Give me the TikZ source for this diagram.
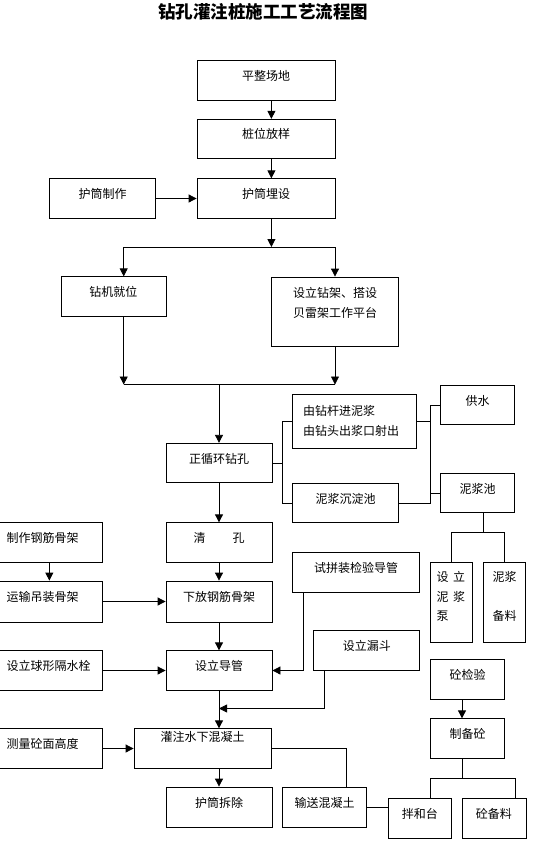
\documentclass[tikz,border=0pt]{standalone}
\usepackage{fontspec}
\newfontfamily\cjk{Noto Sans CJK SC}
\usetikzlibrary{arrows.meta}

\begin{document}
\begin{tikzpicture}[x=1pt, y=-1pt, line width=0.8pt,
  every node/.style={font=\cjk\fontsize{12}{19.5}\selectfont},
  box/.style={draw, inner sep=0pt, minimum height=39.5, text height=10pt, text depth=10pt},
  sidebox/.style={anchor=east, text width=85.5pt, align=left, inner xsep=10pt},
  multi/.style={text height=, text depth=},
  arr/.style={-{Triangle[length=8pt,width=8pt]}}]

\useasboundingbox (0,0) rectangle (554,856);

% title

\node[font=\cjk\bfseries\fontsize{17.5}{21}\selectfont] (title) at (263,11.7) {钻孔灌注桩施工工艺流程图};

% preparation

\node[box, minimum width=138] (pingzheng) at (266,80.5) {平整场地};
\node[box, minimum width=138] (zhuangwei) at (266,139) {桩位放样};
\node[box, minimum width=138] (maishe) at (266,198.5) {护筒埋设};
\node[box, minimum width=106] (huzhizuo) at (102.5,198.5) {护筒制作};
\node[box, minimum width=105] (zuanji) at (113.4,296.5) {钻机就位};
\node[box, minimum width=127, minimum height=69] (zuanjia) at (335,311.5) {};
\node[align=center] (zuanjiatext) at (335,303) {设立钻架、搭设\\贝雷架工作平台};

% drilling and mud

\node[box, minimum width=106] (zhengxun) at (219,463) {正循环钻孔};
\node[box, multi, minimum height=54, text width=102.8pt, inner xsep=10.6pt, align=left] (youzuan) at (354.5,421) {由钻杆进泥浆\\由钻头出浆口射出};
\node[box, minimum width=74] (gongshui) at (477.7,405) {供水};
\node[box, minimum width=106] (chendian) at (345.6,503) {泥浆沉淀池};
\node[box, minimum width=74] (nijiangchi) at (477.7,493) {泥浆池};
\node[box, minimum width=42.4, minimum height=80, text depth=50.4pt, text width=30pt, align=left] (beng) at (451.6,602) {设\hspace{4.5pt}立\\泥\hspace{4.5pt}浆\\泵};
\node[box, minimum width=42.4, minimum height=80, text depth=50.4pt, text width=30pt, align=center] (beiliao) at (504.6,602) {泥浆\\[19.5pt]备料};

% cage and pipe

\node[box, minimum width=106] (qingkong) at (219,542.5) {清\hspace{27pt}孔};
\node[box, sidebox] (gangjin) at (102.5,542.5) {制作钢筋骨架};
\node[box, sidebox, minimum height=41] (yunshu) at (102.5,601.5) {运输吊装骨架};
\node[box, minimum width=106, minimum height=41] (xiafang) at (219,601.5) {下放钢筋骨架};
\node[box, minimum width=127, minimum height=40] (shipin) at (356.2,572) {试拼装检验导管};
\node[box, minimum width=106] (daoguan) at (219,670.5) {设立导管};
\node[box, sidebox] (geshui) at (102.5,670.5) {设立球形隔水栓};
\node[box, minimum width=106] (loudou) at (366.8,650.5) {设立漏斗};

% concrete

\node[box, minimum width=137.4, text depth=24pt] (guanzhu) at (202.7,748.5) {灌注水下混凝土};
\node[box, sidebox] (celiang) at (102.5,748.5) {测量砼面高度};
\node[box, minimum width=106, minimum height=40] (chaichu) at (219,807) {护筒拆除};
\node[box, minimum width=84, minimum height=40] (shusong) at (324.7,807) {输送混凝土};
\node[box, minimum width=63.6, minimum height=40] (banhe) at (419.8,818) {拌和台};
\node[box, minimum width=64, minimum height=40] (shabei) at (493.9,818) {砼备料};
\node[box, minimum width=74.2] (jianyan) at (467.5,679.5) {砼检验};
\node[box, minimum width=74.2] (zhibei) at (467.5,738.5) {制备砼};

% junction points

\coordinate (fork) at (271.4,247);
\coordinate (forkL) at (123.7,247);
\coordinate (forkR) at (335,247);
\coordinate (joinL) at (123.7,384.5);
\coordinate (joinR) at (335,384.5);
\coordinate (join) at (219,384.5);
\coordinate (mudL) at (282.7,463);
\coordinate (mudRtop) at (430.4,405);
\coordinate (mudRbot) at (430.4,503);
\coordinate (poolfork) at (483.4,532);
\coordinate (pourin) at (219,708.5);
\coordinate (mixL) at (430.4,778);
\coordinate (mixR) at (515.2,778);

% edges

\draw[arr] ([xshift=5.4]pingzheng.south) -- ([xshift=5.4]zhuangwei.north);
\draw[arr] ([xshift=5.4]zhuangwei.south) -- ([xshift=5.4]maishe.north);
\draw[arr] (huzhizuo) -- (maishe);
\draw[arr] ([xshift=5.4]maishe.south) -- (fork);
\draw (forkL) -- (forkR);
\draw[arr] (forkL) -- (forkL |- zuanji.north);
\draw[arr] (forkR) -- (zuanjia.north);
\draw[arr] (joinL |- zuanji.south) -- (joinL);
\draw[arr] (zuanjia.south) -- (joinR);
\draw (joinL) -- (joinR);
\draw[arr] (join) -- (zhengxun.north);

\draw (zhengxun.east) -- (mudL);
\draw (youzuan.west) -| (mudL) |- (chendian.west);
\draw (gongshui.west) -- (mudRtop) -- (mudRbot) -- (chendian.east);
\draw (youzuan.east) -- (youzuan.east -| mudRtop);
\draw (nijiangchi.west) -- (nijiangchi.west -| mudRtop);
\draw (poolfork |- nijiangchi.south) -- (poolfork);
\draw (beng.north) |- (beiliao.north |- poolfork) -- (beiliao.north);

\draw[arr] (zhengxun) -- (qingkong);
\draw[arr] (qingkong) -- (xiafang);
\draw[arr] (gangjin) -- (yunshu);
\draw[arr] (yunshu) -- (xiafang);
\draw[arr] (xiafang) -- (daoguan);
\draw[arr] (geshui) -- (daoguan);
\draw[arr] ([xshift=10.6]shipin.south west) |- (daoguan.east);
\draw[arr] ([xshift=10.6]loudou.south west) |- (pourin);
\draw[arr] (daoguan.south) -- (daoguan.south |- guanzhu.north);

\draw[arr] (celiang) -- (guanzhu);
\draw[arr] (chaichu.north |- guanzhu.south) -- (chaichu.north);
\draw (guanzhu.east) -| ([xshift=-21.2]shusong.north east);
\draw (shusong.east) -- (shusong.east -| banhe.west);
\draw[arr] ([xshift=-5.5]jianyan.south) -- ([xshift=-5.5]zhibei.north);
\draw ([xshift=-5.5]zhibei.south) -- ([xshift=-5.5]zhibei.south |- mixL);
\draw (mixL) -- (mixR);
\draw (mixL) -- (mixL |- banhe.north);
\draw (mixR) -- (mixR |- shabei.north);

\end{tikzpicture}
\end{document}
